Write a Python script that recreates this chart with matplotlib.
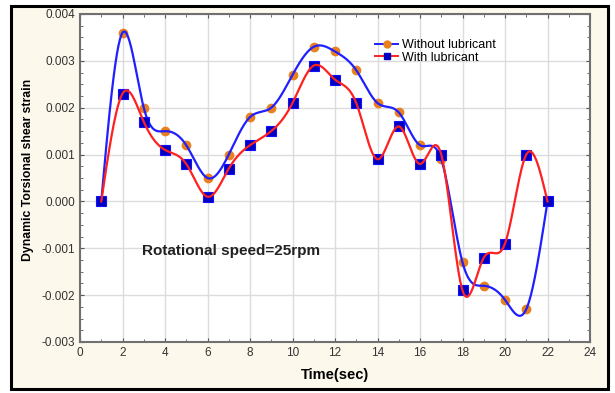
import numpy as np
import matplotlib
matplotlib.use('Agg')
from matplotlib import pyplot as plt
from matplotlib.lines import Line2D
from matplotlib.patches import Rectangle
from matplotlib.ticker import MultipleLocator, FormatStrFormatter

plt.rcParams['font.family'] = ['Liberation Sans', 'DejaVu Sans']

# Time (sec)
time_s = [1, 2, 3, 4, 5, 6, 7, 8, 9, 10, 11, 12, 13, 14, 15, 16, 17, 18, 19, 20, 21, 22]

# Dynamic torsional shear strain
strain_dry = [0.0, 0.0036, 0.0020, 0.0015, 0.0012, 0.0005, 0.0010, 0.0018, 0.0020, 0.0027,
              0.0033, 0.0032, 0.0028, 0.0021, 0.0019, 0.0012, 0.0009, -0.0013, -0.0018,
              -0.0021, -0.0023, 0.0]
strain_lub = [0.0, 0.0023, 0.0017, 0.0011, 0.0008, 0.0001, 0.0007, 0.0012, 0.0015, 0.0021,
              0.0029, 0.0026, 0.0021, 0.0009, 0.0016, 0.0008, 0.0010, -0.0019, -0.0012,
              -0.0009, 0.0010, 0.0]

BLUE_LINE = '#1f1fff'
RED_LINE = '#ff2020'
ORANGE = '#e8801e'
NAVY = '#0000c0'


def natural_spline(x, y, xs):
    x = np.asarray(x, float)
    y = np.asarray(y, float)
    n = len(x)
    h = np.diff(x)
    A = np.zeros((n, n))
    rhs = np.zeros(n)
    A[0, 0] = 1
    A[-1, -1] = 1
    for i in range(1, n - 1):
        A[i, i - 1] = h[i - 1]
        A[i, i] = 2 * (h[i - 1] + h[i])
        A[i, i + 1] = h[i]
        rhs[i] = 6 * ((y[i + 1] - y[i]) / h[i] - (y[i] - y[i - 1]) / h[i - 1])
    M = np.linalg.solve(A, rhs)
    idx = np.clip(np.searchsorted(x, xs) - 1, 0, n - 2)
    x0, x1 = x[idx], x[idx + 1]
    hh = x1 - x0
    return (M[idx] * (x1 - xs) ** 3 / (6 * hh) + M[idx + 1] * (xs - x0) ** 3 / (6 * hh)
            + (y[idx] / hh - M[idx] * hh / 6) * (x1 - xs)
            + (y[idx + 1] / hh - M[idx + 1] * hh / 6) * (xs - x0))


fig = plt.figure(figsize=(6.15, 3.93), dpi=100, facecolor='white')
# cream panel with black frame behind the plot
frame = Rectangle((11 / 615, 1 - 389 / 393), 597 / 615, 383 / 393,
                  transform=fig.transFigure, facecolor='#fdf8ec',
                  edgecolor='black', linewidth=2.2, zorder=-10)
fig.add_artist(frame)

ax = fig.add_axes([80 / 615, 1 - 342 / 393, 510 / 615, 328 / 393])
ax.set_facecolor('white')

xs = np.linspace(time_s[0], time_s[-1], 600)
ax.plot(time_s, strain_dry, 'o', color=ORANGE, ms=6, mec=ORANGE, zorder=3)
ax.plot(xs, natural_spline(time_s, strain_dry, xs), color=BLUE_LINE, lw=1.6, zorder=4)
ax.plot(time_s, strain_lub, 's', color=NAVY, ms=6.5, mec='#1010ff', mew=0.8, zorder=5)
ax.plot(xs, natural_spline(time_s, strain_lub, xs), color=RED_LINE, lw=1.6, zorder=6)

ax.set_xlim(0, 24)
ax.set_ylim(-0.003, 0.004)
ax.xaxis.set_major_locator(MultipleLocator(2))
ax.xaxis.set_minor_locator(MultipleLocator(1))
ax.yaxis.set_major_locator(MultipleLocator(0.001))
ax.yaxis.set_minor_locator(MultipleLocator(0.00025))
ax.yaxis.set_major_formatter(FormatStrFormatter('%.3f'))
ax.grid(True, which='major', color='#dcdcdc', lw=1.0)
ax.set_axisbelow(True)
ax.tick_params(which='both', direction='in', top=True, right=True,
               colors='#555555', labelcolor='#333333', labelsize=8.5)
ax.tick_params(which='major', length=3)
ax.tick_params(which='minor', length=2)
for s in ax.spines.values():
    s.set_color('#707070')
    s.set_linewidth(1.5)

ax.set_xlabel('Time(sec)', fontsize=10.5, fontweight='bold')
ax.xaxis.set_label_coords(0.5, -0.078)
ax.set_ylabel('Dynamic Torsional shear strain', fontsize=8.8, fontweight='bold')
ax.yaxis.set_label_coords(-0.091, 0.524)

ax.text(2.9, -0.00106, 'Rotational speed=25rpm', fontsize=11, fontweight='bold',
        color='#222222', va='center', ha='left')

handles = [
    Line2D([], [], color=BLUE_LINE, lw=1.4, marker='o', ms=5, mfc=ORANGE, mec=ORANGE),
    Line2D([], [], color=RED_LINE, lw=1.4, marker='s', ms=5, mfc=NAVY, mec=NAVY),
]
ax.legend(handles, ['Without lubricant', 'With lubricant'], loc='upper left',
          bbox_to_anchor=(0.562, 0.95), frameon=False, fontsize=9,
          handlelength=1.8, handletextpad=0.3, labelspacing=0.05, borderpad=0.2)

fig.savefig('out.png', dpi=100, facecolor=fig.get_facecolor())
